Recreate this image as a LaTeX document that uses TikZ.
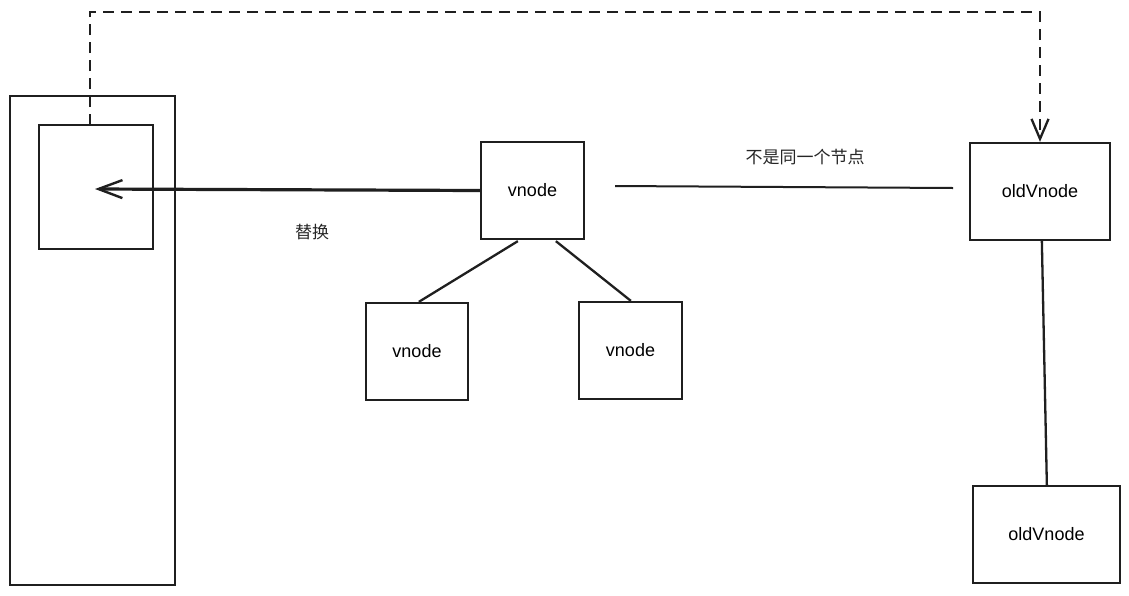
\documentclass[tikz,border=0pt]{standalone}
\usepackage{fontspec}
\setmainfont{Liberation Sans}
\newfontfamily\cjk{Noto Sans CJK SC}
\usetikzlibrary{arrows.meta,calc}
\tikzset{
  box/.style={draw=black!88, line width=2.3pt, rectangle, inner sep=0pt, align=center,
    font=\fontsize{18}{20}\selectfont},
  conn/.style={draw=black!88, line width=2.3pt},
  lbl/.style={font=\cjk\fontsize{17}{19}\selectfont, text=black!85, inner sep=0pt},
  barba/.style={-{Straight Barb[length=24pt,width=18pt,line width=2.4pt]}},
  barbb/.style={-{Straight Barb[length=20pt,width=17pt,line width=2.3pt]}}
}
\begin{document}
\begin{tikzpicture}[x=1pt,y=-1pt]
\useasboundingbox[fill=white] (0,0) rectangle (1129,595);
% boxes
\node[box, minimum width=165pt, minimum height=489pt] (outer) at (92.5,340.5) {};
\node[box, minimum width=114pt, minimum height=124pt] (inner) at (96,187) {};
\node[box, minimum width=103pt, minimum height=97pt] (vnode) at (532.5,190.5) {vnode};
\node[box, minimum width=102pt, minimum height=97pt] (childa) at (417,351.5) {vnode};
\node[box, minimum width=103pt, minimum height=97pt] (childb) at (630.5,350.5) {vnode};
\node[box, minimum width=140pt, minimum height=97pt] (olda) at (1040,191.5) {oldVnode};
\node[box, minimum width=147pt, minimum height=97pt] (oldb) at (1046.5,534.5) {oldVnode};
% labels
\node[lbl] (lsame) at (805,157) {不是同一个节点};
\node[lbl] (lrep) at (312,232) {替换};
% coordinates
\coordinate (tip) at (95,189);
\coordinate (ha) at (615,186);
\coordinate (hb) at (953,188);
\coordinate (d0) at (90,125);
\coordinate (d1) at (90,12);
\coordinate (d2) at (1040,12);
% replace arrow
\draw[conn, line width=3.2pt, barba] (vnode.west) -- (tip);
% not same line
\draw[conn, line width=2pt] (ha) -- (hb);
% dashed
\draw[conn, line width=2.4pt, dash pattern=on 11pt off 7pt, barbb] (d0) -- (d1) -- (d2) -- (olda.north);
% children
\draw[conn] ($(vnode.south west)+(38,1)$) -- ($(childa.north west)+(54,0)$);
\draw[conn] ($(vnode.south west)+(76,1)$) -- ($(childb.north west)+(53,0)$);
\draw[conn] ($(olda.south west)+(73,0)$) -- ($(oldb.north west)+(75,0)$);
\end{tikzpicture}
\end{document}
